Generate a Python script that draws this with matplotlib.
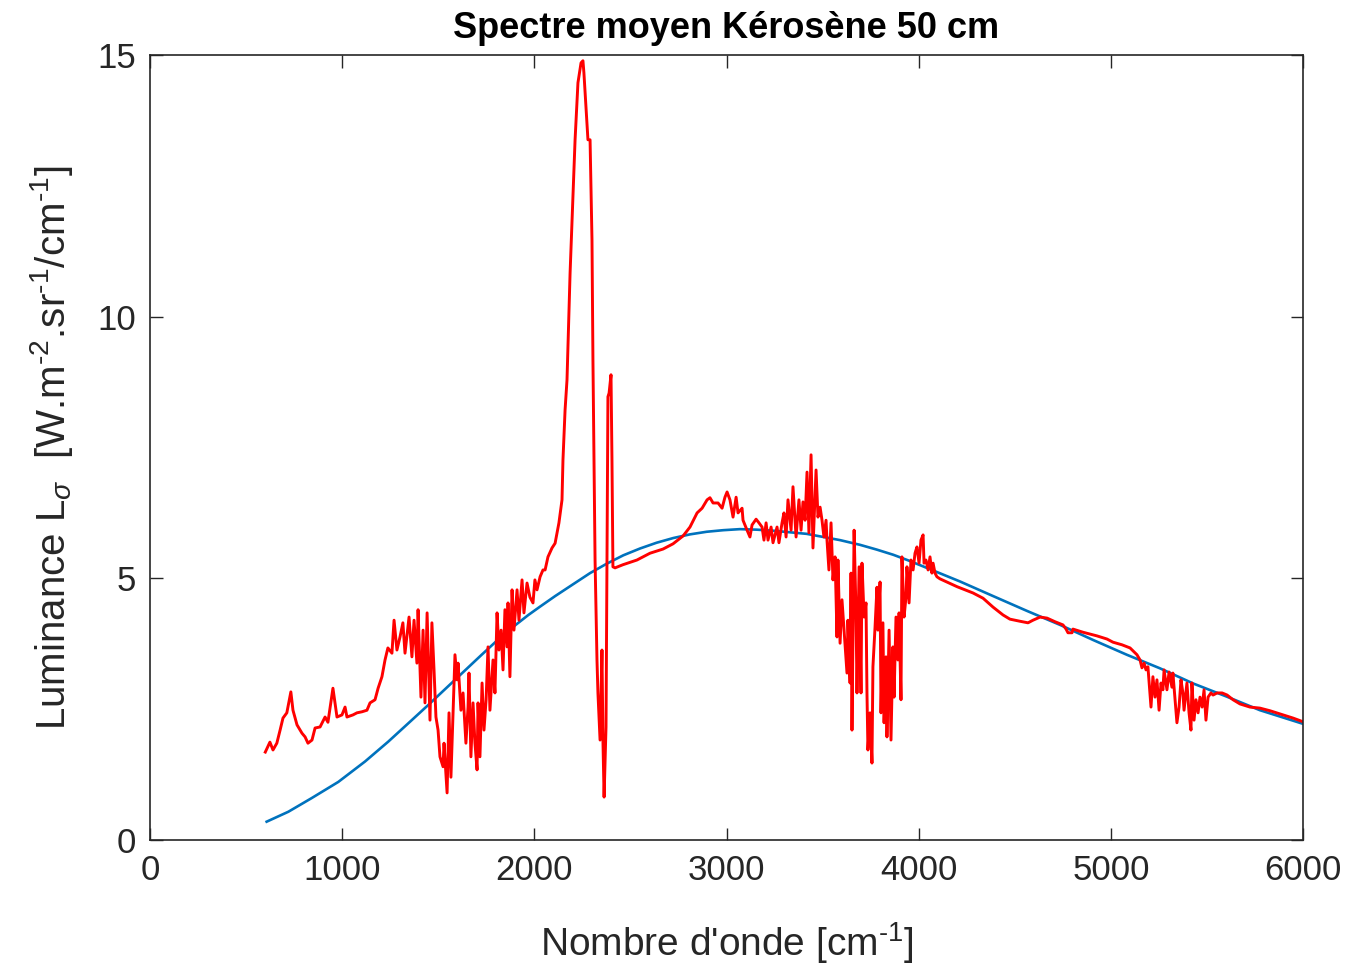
import numpy as np
import matplotlib
matplotlib.use('Agg')
import matplotlib.pyplot as plt

wn_mes = [600, 624, 640, 660, 677, 692, 712, 733, 744, 765, 791, 807, 822, 843, 859, 885, 911, 926, 952, 973,
          999, 1015, 1025, 1056, 1077, 1103, 1129, 1145, 1171, 1187, 1207, 1223, 1238, 1259, 1270, 1285, 1301, 1316, 1327, 1348,
          1363, 1374, 1389, 1395, 1410, 1421, 1431, 1442, 1457, 1467, 1478, 1488, 1499, 1509, 1525, 1530, 1546, 1556, 1566, 1577,
          1587, 1598, 1603, 1618, 1629, 1644, 1655, 1660, 1670, 1681, 1691, 1702, 1707, 1717, 1728, 1738, 1749, 1759, 1769, 1785,
          1795, 1806, 1816, 1827, 1837, 1847, 1858, 1863, 1873, 1884, 1894, 1910, 1920, 1936, 1946, 1962, 1977, 1993, 2003, 2014,
          2030, 2045, 2056, 2071, 2092, 2108, 2118, 2128, 2144, 2149, 2160, 2170, 2186, 2212, 2227, 2243, 2253, 2258, 2274, 2279,
          2290, 2300, 2305, 2316, 2326, 2331, 2342, 2352, 2357, 2363, 2373, 2378, 2383, 2389, 2399, 2404, 2409, 2420, 2461, 2534,
          2602, 2670, 2722, 2774, 2810, 2847, 2873, 2899, 2914, 2930, 2956, 2977, 2992, 3003, 3018, 3034, 3050, 3060, 3081, 3086,
          3107, 3122, 3133, 3154, 3169, 3185, 3195, 3206, 3216, 3232, 3242, 3263, 3273, 3289, 3299, 3310, 3320, 3336, 3346, 3362,
          3377, 3388, 3398, 3409, 3419, 3429, 3440, 3450, 3466, 3476, 3487, 3497, 3507, 3518, 3523, 3533, 3544, 3554, 3565, 3575,
          3580, 3591, 3601, 3612, 3627, 3632, 3643, 3648, 3653, 3664, 3674, 3679, 3690, 3700, 3705, 3716, 3726, 3731, 3736, 3747,
          3757, 3762, 3773, 3783, 3788, 3799, 3804, 3814, 3820, 3830, 3835, 3846, 3856, 3866, 3872, 3882, 3892, 3898, 3908, 3913,
          3924, 3934, 3939, 3950, 3960, 3971, 3981, 3991, 4002, 4012, 4023, 4028, 4038, 4049, 4059, 4069, 4075, 4085, 4095, 4111,
          4147, 4200, 4283, 4335, 4387, 4439, 4475, 4527, 4569, 4595, 4632, 4668, 4710, 4751, 4767, 4777, 4798, 4803, 4855, 4928,
          4980, 5011, 5058, 5100, 5136, 5152, 5162, 5173, 5183, 5193, 5209, 5219, 5230, 5240, 5251, 5261, 5271, 5277, 5292, 5303,
          5318, 5323, 5334, 5344, 5355, 5365, 5375, 5381, 5396, 5407, 5417, 5422, 5433, 5443, 5454, 5464, 5475, 5485, 5495, 5506,
          5521, 5532, 5553, 5579, 5605, 5636, 5672, 5724, 5776, 5828, 5896, 5948, 6000]
L_mes = [1.68, 1.87, 1.72, 1.85, 2.10, 2.33, 2.43, 2.83, 2.48, 2.20, 2.04, 1.97, 1.85, 1.91, 2.14, 2.16, 2.35, 2.25, 2.90, 2.35,
         2.39, 2.54, 2.35, 2.39, 2.43, 2.45, 2.48, 2.62, 2.68, 2.90, 3.12, 3.44, 3.67, 3.57, 4.20, 3.63, 3.88, 4.15, 3.57, 4.26,
         3.50, 4.20, 3.38, 4.40, 2.73, 4.01, 2.62, 4.34, 2.29, 4.15, 3.25, 2.35, 2.10, 1.59, 1.40, 1.85, 0.90, 2.43, 1.20, 2.43,
         3.54, 3.06, 3.38, 2.48, 2.81, 1.85, 2.54, 3.19, 1.59, 2.62, 1.85, 1.34, 2.62, 1.59, 3.00, 2.10, 2.68, 3.69, 2.48, 3.44,
         2.81, 4.34, 3.63, 4.01, 3.25, 4.40, 3.69, 4.53, 3.12, 4.78, 4.01, 4.78, 4.20, 4.97, 4.34, 4.91, 4.64, 4.53, 4.97, 4.78,
         5.03, 5.16, 5.16, 5.41, 5.58, 5.67, 5.87, 6.06, 6.50, 7.26, 8.22, 8.79, 10.83, 13.38, 14.47, 14.85, 14.89, 14.66, 13.70, 13.38,
         13.38, 11.47, 9.17, 5.35, 3.44, 2.81, 1.91, 3.63, 1.91, 0.82, 2.16, 5.35, 8.47, 8.54, 8.89, 7.26, 5.22, 5.20, 5.26, 5.35,
         5.48, 5.56, 5.66, 5.81, 5.98, 6.25, 6.34, 6.50, 6.54, 6.44, 6.44, 6.34, 6.55, 6.65, 6.50, 6.17, 6.55, 6.25, 6.34, 6.11,
         5.92, 5.79, 6.02, 6.13, 6.06, 5.98, 5.73, 6.06, 5.73, 5.98, 5.68, 5.98, 5.68, 6.06, 6.25, 5.79, 6.50, 5.92, 6.75, 5.79,
         6.50, 5.92, 6.46, 6.11, 7.03, 5.87, 7.36, 5.58, 7.07, 6.17, 6.36, 6.11, 5.79, 6.11, 5.73, 5.16, 6.06, 4.97, 5.41, 3.88,
         5.35, 3.76, 4.59, 4.01, 3.19, 4.20, 3.00, 5.10, 2.10, 5.92, 4.34, 2.81, 5.22, 2.81, 5.29, 4.26, 4.53, 2.81, 1.72, 2.43,
         1.47, 3.31, 4.07, 4.83, 4.01, 4.93, 2.43, 4.15, 2.24, 3.50, 1.97, 4.01, 1.91, 3.69, 2.73, 4.26, 3.44, 4.34, 2.68, 5.41,
         4.26, 4.64, 5.22, 4.53, 5.35, 5.16, 5.48, 5.60, 5.29, 5.73, 5.83, 5.29, 5.35, 5.16, 5.41, 5.10, 5.29, 5.10, 5.03, 4.99,
         4.93, 4.84, 4.72, 4.62, 4.45, 4.30, 4.22, 4.18, 4.15, 4.20, 4.26, 4.24, 4.17, 4.11, 4.03, 3.96, 3.96, 4.03, 3.97, 3.90,
         3.84, 3.78, 3.73, 3.67, 3.54, 3.44, 3.29, 3.38, 3.25, 3.31, 2.54, 3.12, 2.73, 3.06, 2.48, 3.00, 2.87, 3.25, 2.87, 3.21,
         2.92, 3.19, 2.68, 2.24, 2.54, 3.06, 2.81, 2.48, 3.00, 2.43, 2.10, 3.00, 2.29, 2.68, 2.43, 2.73, 2.54, 2.87, 2.29, 2.73,
         2.81, 2.77, 2.81, 2.81, 2.77, 2.68, 2.60, 2.54, 2.52, 2.47, 2.39, 2.33, 2.26]

# corps noir ajuste
wn_cn = [607, 720, 841, 980, 1119, 1240, 1362, 1448, 1587, 1726, 1847, 1969, 2030, 2108, 2203, 2290, 2377, 2463, 2550, 2636,
         2723, 2810, 2897, 2983, 3070, 3157, 3244, 3330, 3417, 3504, 3591, 3695, 3781, 3868, 3955, 4042, 4215, 4388, 4562,
         4736, 4909, 5083, 5256, 5429, 5603, 5776, 5888, 6000]
L_cn = [0.35, 0.54, 0.80, 1.11, 1.50, 1.88, 2.29, 2.58, 3.06, 3.54, 3.95, 4.30, 4.46, 4.66, 4.89, 5.10, 5.28, 5.44, 5.57, 5.68,
        5.77, 5.84, 5.89, 5.92, 5.94, 5.93, 5.91, 5.88, 5.85, 5.79, 5.73, 5.64, 5.55, 5.45, 5.33, 5.20, 4.94, 4.66, 4.38,
        4.11, 3.82, 3.54, 3.28, 2.99, 2.74, 2.48, 2.35, 2.22]

plt.rcParams['font.family'] = ['Liberation Sans', 'DejaVu Sans']
plt.rcParams['mathtext.fontset'] = 'custom'
plt.rcParams['mathtext.rm'] = 'Liberation Sans'
plt.rcParams['mathtext.it'] = 'Liberation Sans:italic'
plt.rcParams['mathtext.default'] = 'regular'

gris = '#262626'
fig = plt.figure(figsize=(13.52, 9.65), dpi=100)
ax = fig.add_axes([150/1352, 1-840/965, 1153/1352, 785/965])

ax.plot(wn_cn, L_cn, color='#0072BD', lw=1.9)
ax.plot(wn_mes, L_mes, color='#FF0000', lw=2.1)

ax.set_xlim(0, 6000)
ax.set_ylim(0, 15)
ax.set_xticks(np.arange(0, 6001, 1000))
ax.set_yticks([0, 5, 10, 15])
ax.tick_params(direction='in', length=9, width=1, top=True, right=True,
               labelsize=25, colors=gris, pad=10)
for s in ax.spines.values():
    s.set_color(gris)
    s.set_linewidth(1.2)

ax.set_xlabel("Nombre d'onde [cm$^{\\text{-1}}$]", fontsize=28, color=gris, labelpad=24)
ax.set_ylabel('Luminance L$_{\\mathit{\\sigma}}$  [W.m$^{\\text{-2}}$.sr$^{\\text{-1}}$/cm$^{\\text{-1}}$]',
              fontsize=29, color=gris, labelpad=16)
ax.set_title('Spectre moyen Kérosène 50 cm', fontsize=26, fontweight='bold', color='black', pad=12)

fig.savefig('out.png', dpi=100)
